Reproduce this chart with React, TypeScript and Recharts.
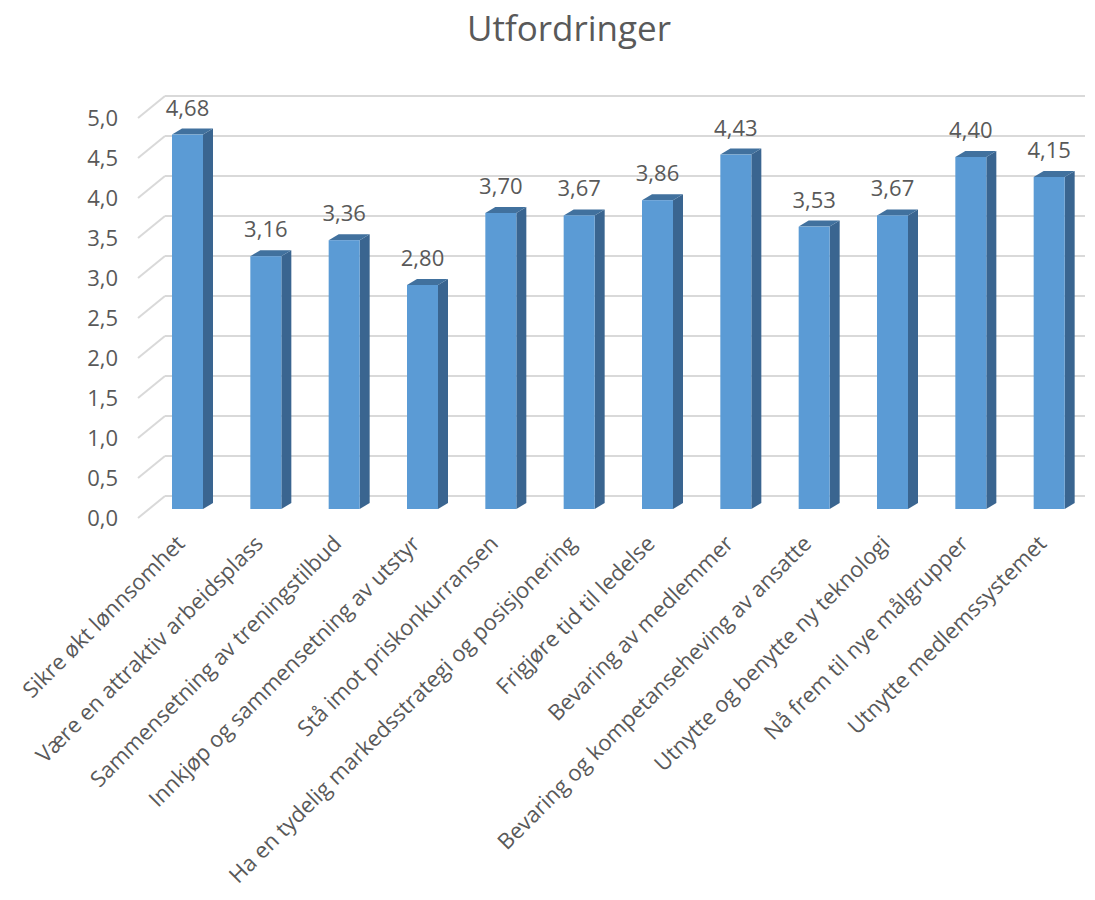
import { BarChart, Bar, XAxis, YAxis, CartesianGrid, LabelList } from "recharts";

const CATEGORIES = [
  "Sikre økt lønnsomhet",
  "Være en attraktiv arbeidsplass",
  "Sammensetning av treningstilbud",
  "Innkjøp og sammensetning av utstyr",
  "Stå imot priskonkurransen",
  "Ha en tydelig markedsstrategi og posisjonering",
  "Frigjøre tid til ledelse",
  "Bevaring av medlemmer",
  "Bevaring og kompetanseheving av ansatte",
  "Utnytte og benytte ny teknologi",
  "Nå frem til nye målgrupper",
  "Utnytte medlemssystemet",
];

const VALUES = [4.68, 3.16, 3.36, 2.8, 3.7, 3.67, 3.86, 4.43, 3.53, 3.67, 4.4, 4.15];

const Y_TICKS = [0, 0.5, 1, 1.5, 2, 2.5, 3, 3.5, 4, 4.5, 5];

const TITLE = "Utfordringer";

const data = CATEGORIES.map((name, i) => ({ name, value: VALUES[i] }));

const FONT = "'Open Sans', sans-serif";
const TEXT = "#595959";
const FRONT = "#5B9BD5";
const SIDE = "#3A6590";
const TOP = "#41719E";
const GRID = "#D9D9D9";
const DX = 10; // depth offset of the bar
const DY = 6;

const comma = (v: number, d: number) => v.toFixed(d).replace(".", ",");

// 3D-looking column: front, side and top faces
function Bar3D(props: any) {
  const { x, y, width, height } = props;
  if (height == null || height <= 0) return null;
  const r = x + width;
  const b = y + height;
  return (
    <g>
      <polygon
        points={`${r},${y} ${r + DX},${y - DY} ${r + DX},${b - DY} ${r},${b}`}
        fill={SIDE}
      />
      <polygon
        points={`${x},${y} ${x + DX},${y - DY} ${r + DX},${y - DY} ${r},${y}`}
        fill={TOP}
      />
      <rect x={x} y={y} width={width} height={height} fill={FRONT} />
    </g>
  );
}

// back-wall gridline + the diagonal on the left side wall
function GridLine(props: any) {
  const { x1, y1, x2, key } = props;
  return (
    <g key={key}>
      <line x1={x1 + 17} y1={y1 - 13} x2={x2 - 3} y2={y1 - 13} stroke={GRID} strokeWidth={2} />
      <line x1={x1 - 10} y1={y1 + 9} x2={x1 + 17} y2={y1 - 13} stroke={GRID} strokeWidth={2} />
    </g>
  );
}

function YTick(props: any) {
  const { x, y, payload } = props;
  return (
    <text
      x={x - 22}
      y={y + 9}
      dy="0.36em"
      textAnchor="end"
      fill={TEXT}
      fontFamily={FONT}
      fontSize={22}
    >
      {comma(payload.value, 1)}
    </text>
  );
}

function XTick(props: any) {
  const { x, y, payload } = props;
  const ax = x - 1;
  const ay = y + 28;
  return (
    <text
      x={ax}
      y={ay}
      textAnchor="end"
      transform={`rotate(-45 ${ax} ${ay})`}
      fill={TEXT}
      fontFamily={FONT}
      fontSize={22}
    >
      {payload.value}
    </text>
  );
}

function ValueLabel(props: any) {
  const { x, y, width, value } = props;
  return (
    <text
      x={x + width / 2}
      y={y - 19}
      textAnchor="middle"
      fill={TEXT}
      fontFamily={FONT}
      fontSize={22}
    >
      {comma(value, 2)}
    </text>
  );
}

export default function App() {
  return (
    <div style={{ position: "relative", width: 1087, height: 892 }}>
      <div
        style={{
          position: "absolute",
          left: 561,
          top: 2,
          transform: "translateX(-50%)",
          fontFamily: FONT,
          fontSize: 35,
          lineHeight: "35px",
          color: TEXT,
          whiteSpace: "nowrap",
        }}
      >
        {TITLE}
      </div>
      <BarChart
        width={1087}
        height={892}
        data={data}
        margin={{ top: 101, right: 7, bottom: 11, left: 80 }}
      >
        <CartesianGrid vertical={false} horizontal={GridLine} />
        <YAxis
          width={60}
          domain={[0, 5]}
          ticks={Y_TICKS}
          axisLine={false}
          tickLine={false}
          tick={YTick}
          interval={0}
        />
        <XAxis
          dataKey="name"
          height={380}
          axisLine={false}
          tickLine={false}
          tick={XTick}
          interval={0}
        />
        <Bar dataKey="value" barSize={31} shape={Bar3D} isAnimationActive={false}>
          <LabelList dataKey="value" content={ValueLabel} />
        </Bar>
      </BarChart>
    </div>
  );
}
